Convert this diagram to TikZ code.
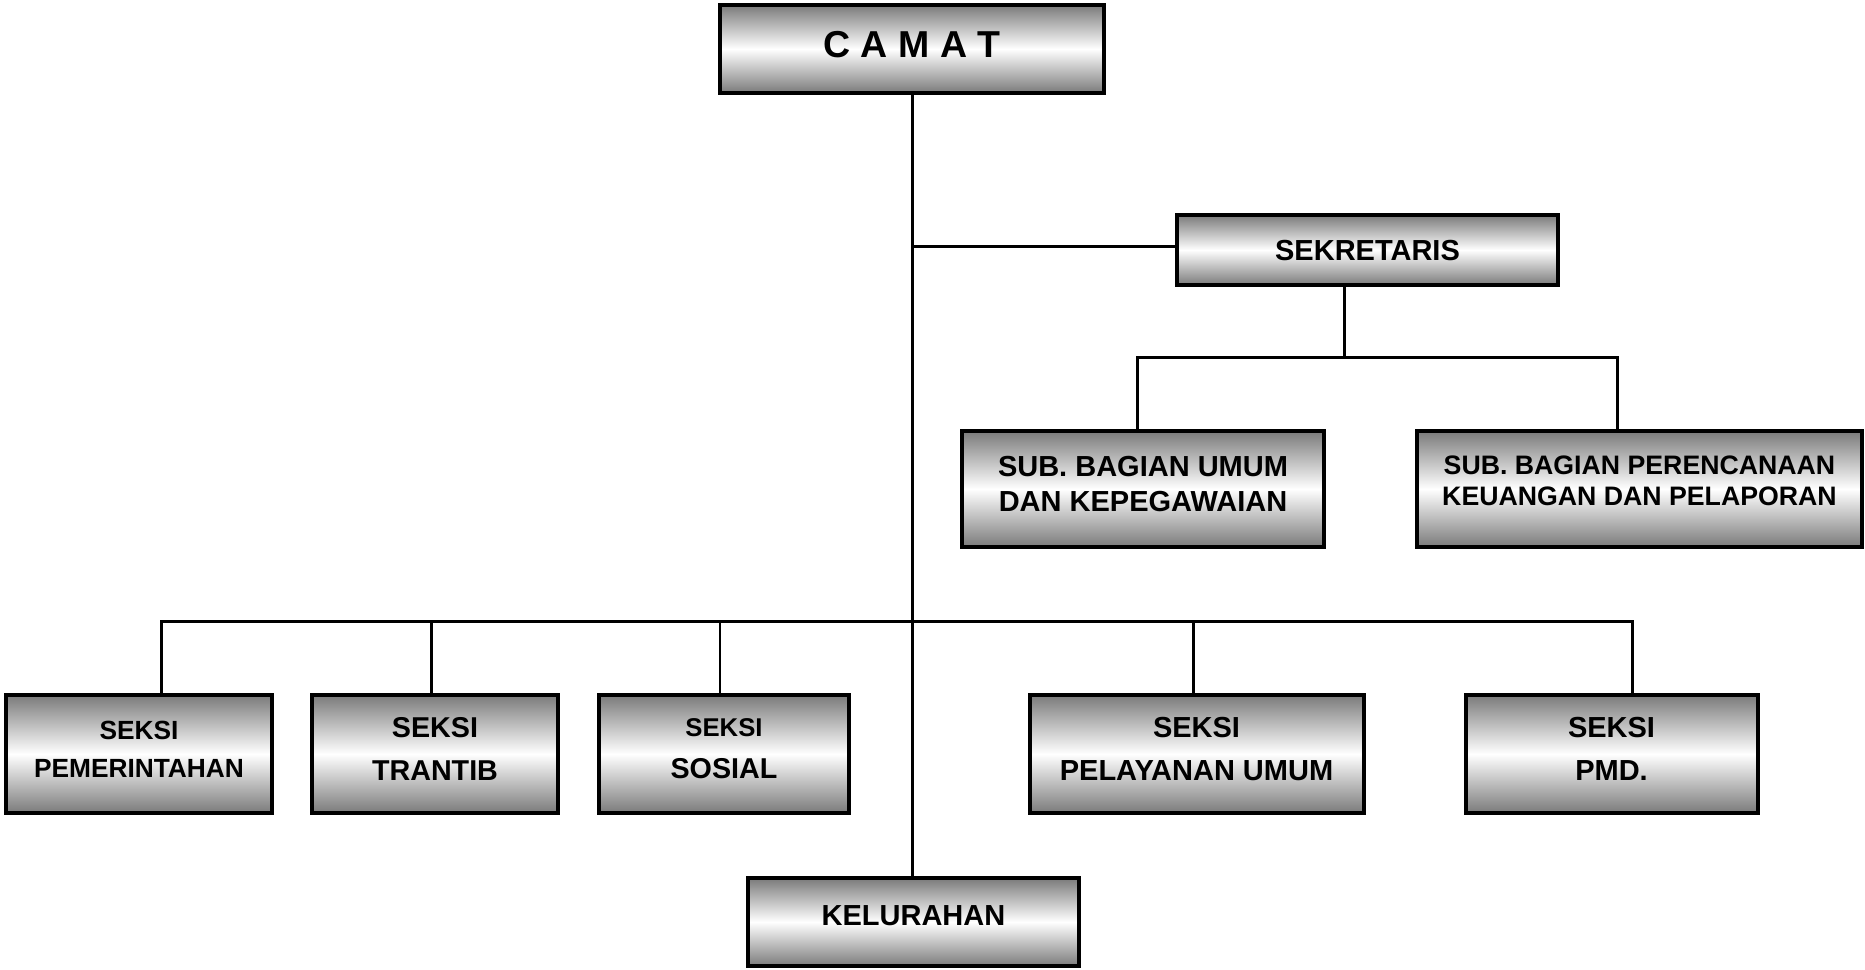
\documentclass[tikz,border=0pt]{standalone}
\usepackage{fontspec}
\setmainfont{Liberation Sans}
\usepackage{tikz}
\usetikzlibrary{calc}

\begin{document}
\begin{tikzpicture}[x=1pt, y=-1pt,
    box/.style={draw=black, line width=4pt, top color=black!52, bottom color=black!52, middle color=white, inner sep=0pt, align=center, text depth=10pt},
    conn/.style={draw=black, line width=3pt}]
  \useasboundingbox (0,0) rectangle (1865,969);

  % Camat and sekretaris
  \node[box, minimum width=384, minimum height=88, font=\bfseries\fontsize{37.5}{45}\selectfont] (camat) at (912,49) {C A M A T};
  \node[box, minimum width=381, minimum height=70, font=\bfseries\fontsize{29}{35}\selectfont, text depth=0pt] (sekretaris) at (1367.5,250) {SEKRETARIS};

  % Sub bagian
  \node[box, minimum width=362, minimum height=116, font=\bfseries\fontsize{29}{34.5}\selectfont] (subumum) at (1143,489) {SUB. BAGIAN UMUM\\DAN KEPEGAWAIAN};
  \node[box, minimum width=445, minimum height=116, font=\bfseries\fontsize{26.7}{31}\selectfont, text depth=16pt] (subren) at (1639.5,489) {SUB. BAGIAN PERENCANAAN\\KEUANGAN DAN PELAPORAN};

  % Kelurahan
  \node[box, minimum width=331, minimum height=88, font=\bfseries\fontsize{29}{35}\selectfont, text depth=12pt] (kelurahan) at (913.5,922) {KELURAHAN};

  % Main line
  \coordinate (bar) at (912,621);
  \coordinate (sekbar) at (1344,357);
  \coordinate (sekin) at ($(sekretaris.west)+(0,-4)$);
  \draw[conn] (camat.south) -- (camat.south |- kelurahan.north);
  \draw[conn] (camat.south |- sekin) -- (sekin);
  \draw[conn] (sekretaris.south -| sekbar) -- (sekbar);
  \draw[conn] ($(subumum.north)+(-6,0)$) |- (sekbar) -| ($(subren.north)+(-22,0)$);

  % Seksi
  \foreach \n/\x/\w/\dx/\lw/\fs/\ls/\txt in {
      pemerintahan/139/266/22/3/26.3/38/{SEKSI\\PEMERINTAHAN},
      trantib/435/246/-4/3/28.7/43/{SEKSI\\TRANTIB},
      sosial/724/250/-4/1.5/28.7/42/{{\fontsize{25.7}{42}\selectfont SEKSI}\\SOSIAL},
      pelayanan/1196.5/334/-3.5/3/29/43/{SEKSI\\PELAYANAN UMUM},
      pmd/1611.5/292/20.5/3/29/43/{SEKSI\\PMD.}} {
    \node[box, minimum width=\w, minimum height=118, font=\bfseries\fontsize{\fs}{\ls}\selectfont] (\n) at (\x,754) {\txt};
    \draw[conn, line width=\lw] ($(\n.north)+(\dx,0)$) |- (bar);
  }
\end{tikzpicture}
\end{document}
